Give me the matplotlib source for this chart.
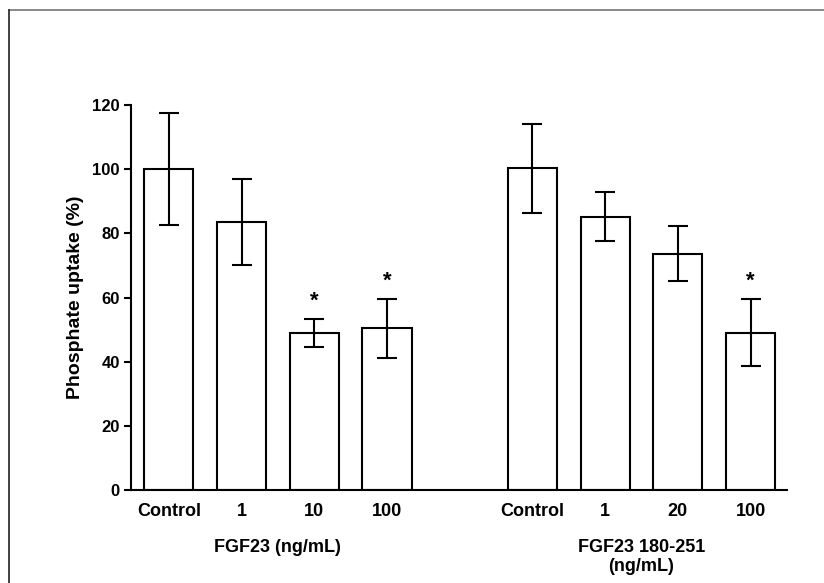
import matplotlib
matplotlib.use("Agg")
import matplotlib.pyplot as plt
from matplotlib.lines import Line2D

plt.rcParams['font.family'] = ['Liberation Sans', 'DejaVu Sans']
plt.rcParams['font.weight'] = 'bold'

categories = ["Control", "1", "10", "100", "Control", "1", "20", "100"]
positions = [0, 1, 2, 3, 5, 6, 7, 8]
values = [100.0, 83.5, 49.0, 50.4, 100.3, 85.2, 73.6, 49.0]
errors = [17.4, 13.5, 4.4, 9.1, 13.9, 7.6, 8.6, 10.5]
significant = [False, False, True, True, False, False, False, True]
group_labels = ["FGF23 (ng/mL)", "FGF23 180-251\n(ng/mL)"]
group_centers = [1.5, 6.5]
yticks = [0, 20, 40, 60, 80, 100, 120]

fig = plt.figure(figsize=(8.24, 5.83), dpi=100)
ax = fig.add_axes([0.159, 0.1595, 0.7966, 0.6604])

lw = 1.5
ax.bar(positions, values, width=0.675, color='white', edgecolor='black',
       linewidth=lw, zorder=2)
ax.errorbar(positions, values, yerr=errors, fmt='none', ecolor='black',
            elinewidth=lw, capsize=7, capthick=lw, zorder=3)
for x, v, e, s in zip(positions, values, errors, significant):
    if s:
        ax.text(x, v + e + 5.5, "*", ha='center', va='center',
                fontsize=16, fontweight='bold')

ax.set_xlim(-0.52, 8.507)
ax.set_ylim(0, 120)
ax.set_yticks(yticks)
ax.set_yticklabels([str(t) for t in yticks], fontsize=12, fontweight='bold')
ax.set_xticks(positions)
ax.set_xticklabels(categories, fontsize=13, fontweight='bold')
ax.tick_params(axis='x', length=0, pad=9)
ax.tick_params(axis='y', length=5, width=lw, direction='out', pad=3)
for side in ['top', 'right']:
    ax.spines[side].set_visible(False)
for side in ['left', 'bottom']:
    ax.spines[side].set_linewidth(lw)

ax.set_ylabel("Phosphate uptake (%)", fontsize=14, fontweight='bold', labelpad=6)

for lab, c in zip(group_labels, group_centers):
    ax.text(c, -15.2, lab, ha='center', va='top', fontsize=13,
            fontweight='bold', transform=ax.transData, linespacing=1.2)

# outer frame (top and left edges only)
top_y = 1 - 9.5 / 583
left_x = 9 / 824
fig.lines.append(Line2D([left_x, 1.0], [top_y, top_y], transform=fig.transFigure,
                        color='#808080', linewidth=1.3))
fig.lines.append(Line2D([left_x, left_x], [0.0, top_y], transform=fig.transFigure,
                        color='#333333', linewidth=1.3))

fig.savefig("out.png", dpi=100)
